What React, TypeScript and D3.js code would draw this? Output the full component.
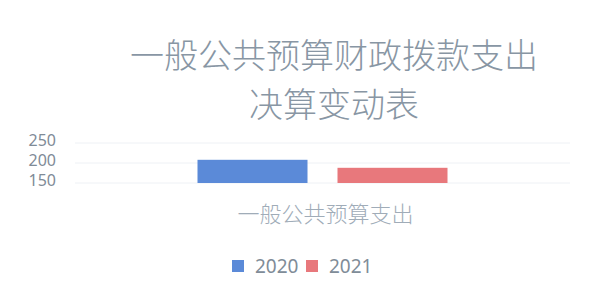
import React from "react";
import * as d3 from "d3";

const categories = ["一般公共预算支出"];
const seriesNames = ["2020", "2021"];
const values2020 = [208];
const values2021 = [188];
const yTicks = [150, 200, 250];
const titleLines = ["一般公共预算财政拨款支出", "决算变动表"];
const colors = ["#5b8ad8", "#e8787c"];

export default function App() {
  const W = 590, H = 297;
  const plotLeft = 75, plotRight = 570, plotTop = 143, plotBottom = 183;
  const y = d3.scaleLinear().domain([150, 250]).range([plotBottom, plotTop]);
  const x0 = d3.scaleBand<string>().domain(categories).range([plotLeft, plotRight]).paddingInner(0).paddingOuter(0.49);
  const x1 = d3.scaleBand<string>().domain(seriesNames).range([0, x0.bandwidth()]).paddingInner(30 / 140).paddingOuter(0);
  const series = [values2020, values2021];
  const font = "'Noto Sans CJK SC', 'Noto Sans', sans-serif";
  return (
    <svg width={W} height={H} style={{ position: "absolute", left: 0, top: 0, background: "#fff" }}>
      <rect width={W} height={H} fill="#fff" />
      {titleLines.map((t, i) => (
        <text key={t} x={334} y={53 + i * 49} textAnchor="middle" dominantBaseline="central"
          fontFamily={font} fontSize={34} fontWeight={300} fill="#8896a4">{t}</text>
      ))}
      {yTicks.map((t) => (
        <g key={t}>
          <line x1={plotLeft} x2={plotRight} y1={y(t)} y2={y(t)} stroke="#eef1f5" strokeWidth={1} />
          <text x={56} y={y(t) - 3} textAnchor="end" dominantBaseline="central"
            fontFamily="'Noto Sans', sans-serif" fontSize={16} fill="#7f8b97">{t}</text>
        </g>
      ))}
      {categories.map((c, ci) => (
        <g key={c} transform={`translate(${x0(c)},0)`}>
          {seriesNames.map((s, si) => (
            <rect key={s} x={x1(s)} width={x1.bandwidth()} y={y(series[si][ci])}
              height={y(150) - y(series[si][ci])} fill={colors[si]} />
          ))}
        </g>
      ))}
      {categories.map((c) => (
        <text key={c} x={(x0(c) as number) + x0.bandwidth() / 2 + 3} y={212} textAnchor="middle" dominantBaseline="central"
          fontFamily={font} fontSize={22} fontWeight={300} fill="#a0acb8">{c}</text>
      ))}
      {seriesNames.map((s, i) => {
        const lx = [232, 306][i];
        return (
          <g key={s}>
            <rect x={lx} y={260} width={12} height={12} fill={colors[i]} />
            <text x={lx + 23} y={266} dominantBaseline="central" fontFamily="'Noto Sans', sans-serif"
              fontSize={19} fill="#808c98">{s}</text>
          </g>
        );
      })}
    </svg>
  );
}
